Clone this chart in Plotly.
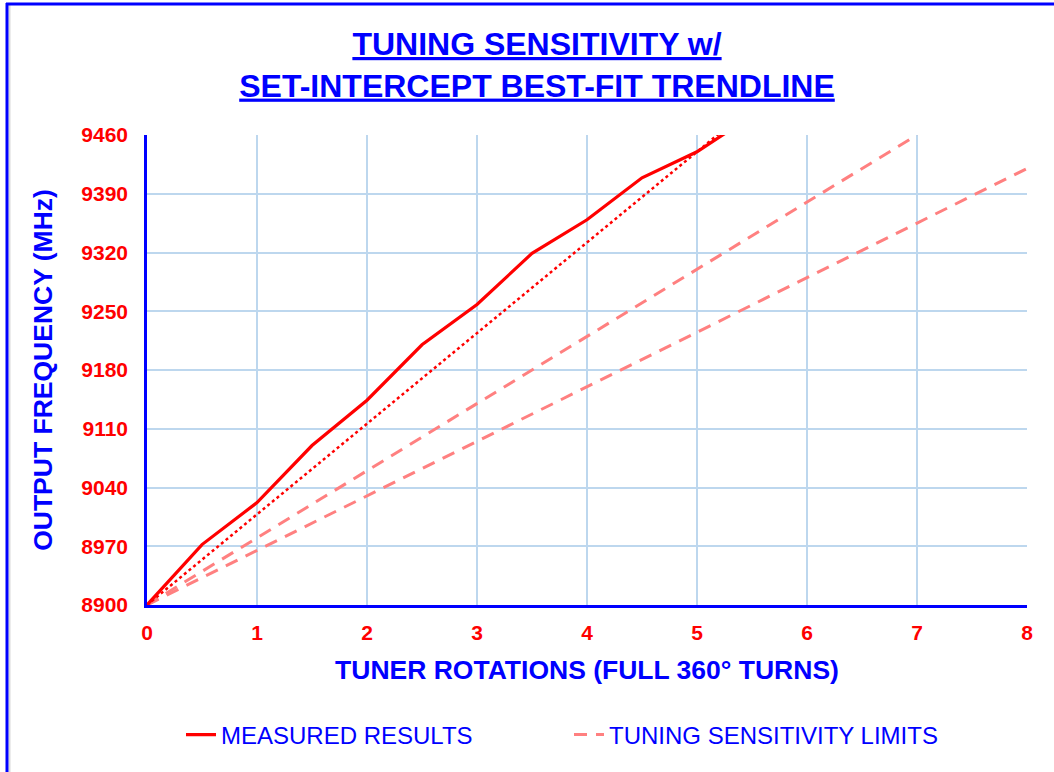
import plotly.graph_objects as go

# ---- data ----
rotations = [0, 0.5, 1, 1.5, 2, 2.5, 3, 3.5, 4, 4.5, 5, 5.5]
measured_mhz = [8900, 8972, 9022, 9090, 9144, 9210, 9258, 9319, 9359, 9409, 9440, 9483]

trend_x = [0, 5.5]
trend_y = [8900, 9494]

limit_hi_x = [0, 7]
limit_hi_y = [8900, 9460]
limit_lo_x = [0, 8]
limit_lo_y = [8900, 9420]

y_ticks = [8900, 8970, 9040, 9110, 9180, 9250, 9320, 9390, 9460]
x_ticks = [0, 1, 2, 3, 4, 5, 6, 7, 8]

W, H = 1054, 772
L, R, T, B = 147, 27, 135, 167
FONT = "Liberation Sans, Arial, sans-serif"
BLUE = "#0000FF"
RED = "#FF0000"
PINK = "#FF8080"
GRID = "#BDD7EE"

fig = go.Figure()

fig.add_trace(go.Scatter(
    x=limit_hi_x, y=limit_hi_y, mode="lines", name="TUNING SENSITIVITY LIMITS",
    legendgroup="lim", line=dict(color=PINK, width=3, dash="13px,9px"), legendrank=2))
fig.add_trace(go.Scatter(
    x=limit_lo_x, y=limit_lo_y, mode="lines", name="TUNING SENSITIVITY LIMITS",
    legendgroup="lim", showlegend=False, line=dict(color=PINK, width=3, dash="13px,9px")))
fig.add_trace(go.Scatter(
    x=trend_x, y=trend_y, mode="lines", name="Set-intercept trendline",
    showlegend=False, line=dict(color=RED, width=2.5, dash="dot")))
fig.add_trace(go.Scatter(
    x=rotations, y=measured_mhz, mode="lines", name="MEASURED RESULTS",
    line=dict(color=RED, width=3.2), legendrank=1))

def px_x(p):
    return (p - L) / (W - L - R)

def px_y(p):
    return (H - B - p) / (H - T - B)

shapes = [
    dict(type="line", xref="paper", yref="paper", x0=px_x(9.5), x1=px_x(9.5),
         y0=px_y(H), y1=px_y(5), line=dict(color="#D9D9D9", width=2)),
    dict(type="line", xref="paper", yref="paper", x0=px_x(7), x1=px_x(7),
         y0=px_y(H), y1=px_y(3), line=dict(color=BLUE, width=3)),
    dict(type="line", xref="paper", yref="paper", x0=px_x(6), x1=px_x(W),
         y0=px_y(4), y1=px_y(4), line=dict(color=BLUE, width=3)),
]

fig.update_layout(
    width=W, height=H, autosize=False,
    margin=dict(l=L, r=R, t=T, b=B),
    paper_bgcolor="white", plot_bgcolor="white",
    font=dict(family=FONT),
    title=dict(
        text="<b><u>TUNING SENSITIVITY w/</u></b><br><b><u>SET-INTERCEPT BEST-FIT TRENDLINE</u></b>",
        x=537 / W, xanchor="center", xref="container",
        y=1 - 55 / H, yanchor="top", yref="container",
        font=dict(family=FONT, size=32, color=BLUE)),
    xaxis=dict(
        range=[0, 8], tickvals=x_ticks, ticktext=[str(v) for v in x_ticks],
        showgrid=True, gridcolor=GRID, gridwidth=2,
        showline=True, linecolor=BLUE, linewidth=2.5,
        zeroline=False, ticks="", ticklabelstandoff=7,
        tickfont=dict(family=FONT, size=21, color=RED, weight="bold"),
        title=dict(text="<b>TUNER ROTATIONS (FULL 360° TURNS)</b>", standoff=18,
                   font=dict(family=FONT, size=26.5, color=BLUE))),
    yaxis=dict(
        range=[8900, 9460], tickvals=y_ticks, ticktext=[str(v) for v in y_ticks],
        showgrid=True, gridcolor=GRID, gridwidth=2,
        showline=True, linecolor=BLUE, linewidth=2.5,
        zeroline=False, ticks="", ticklabelstandoff=12,
        tickfont=dict(family=FONT, size=21, color=RED, weight="bold"),
        title=dict(text="<b>OUTPUT FREQUENCY (MHz)</b>", standoff=22,
                   font=dict(family=FONT, size=26.5, color=BLUE))),
    legend=dict(
        orientation="h", x=px_x(181), xanchor="left", y=px_y(735), yanchor="middle",
        font=dict(family=FONT, size=24, color=BLUE),
        entrywidth=343, entrywidthmode="pixels",
        bgcolor="rgba(0,0,0,0)", traceorder="normal"),
    shapes=shapes,
)

fig.write_html("out.html", config={"displayModeBar": False},
               post_script="document.body.style.margin='0';")
